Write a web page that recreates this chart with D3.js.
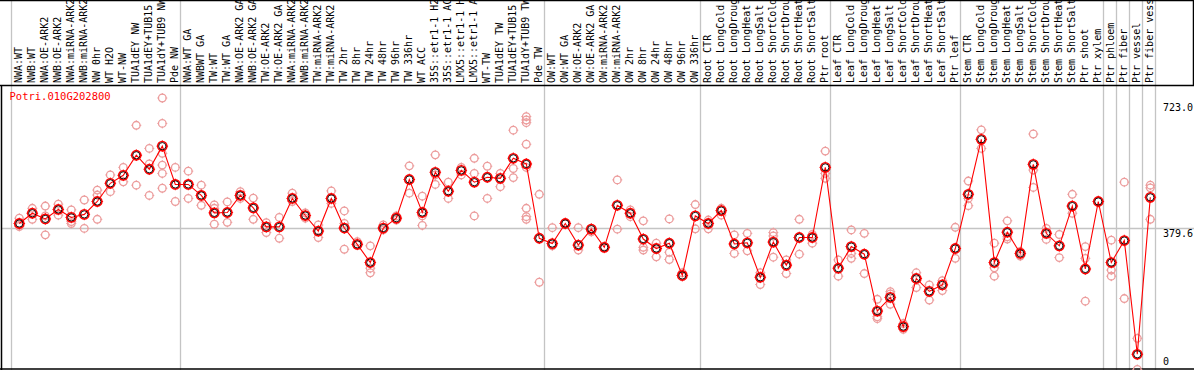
<!DOCTYPE html>
<html>
<head>
<meta charset="utf-8">
<script src="https://cdn.jsdelivr.net/npm/d3@7"></script>
<style>
	body { margin:0; background:#fff; }
	text { font-family:"DejaVu Sans Mono", monospace; font-size:10px; }
</style>
</head>
<body>
<svg id="chart" width="1194" height="370"></svg>
<script>
// ***************** DATA ********************
var geneName = "Potri.010G202800";

var labels = [
	"NWA:WT","NWB:WT","NWA:OE-ARK2","NWB:OE-ARK2","NWA:miRNA-ARK2","NWB:miRNA-ARK2",
	"NW 0hr","WT H2O","WT-NW","TUA1dEY NW","TUA1dEY+TUB15","TUA1dY+TUB9 NW","Pde NW",
	"NWA:WT GA","NWBWT GA","TW:WT","TW:WT GA","NWA:OE-ARK2 GA","NWB:OE-ARK2 GA",
	"TW:OE-ARK2","TW:OE-ARK2 GA","NWA:miRNA-ARK2","NWB:miRNA-ARK2","TW:miRNA-ARK2","TW:miRNA-ARK2",
	"TW 2hr","TW 8hr","TW 24hr","TW 48hr","TW 96hr","TW 336hr","WT ACC",
	"35S::etr1-1 H2","35S::etr1-1 AC","LMX5::etr1-1 H","LMX5::etr1-1 A",
	"WT-TW","TUA1dEY TW","TUA1dEY+TUB15","TUA1dY+TUB9 TW","Pde TW",
	"OW:WT","OW:WT GA","OW:OE-ARK2","OW:OE-ARK2 GA","OW:miRNA-ARK2","OW:miRNA-ARK2",
	"OW 2hr","OW 8hr","OW 24hr","OW 48hr","OW 96hr","OW 336hr",
	"Root CTR","Root LongCold","Root LongDroug","Root LongHeat","Root LongSalt",
	"Root ShortCold","Root ShortDrou","Root ShortHeat","Root ShortSalt","Ptr root",
	"Leaf CTR","Leaf LongCold","Leaf LongDroug","Leaf LongHeat","Leaf LongSalt",
	"Leaf ShortCold","Leaf ShortDrou","Leaf ShortHeat","Leaf ShortSalt","Ptr leaf",
	"Stem CTR","Stem LongCold","Stem LongDroug","Stem LongHeat","Stem LongSalt",
	"Stem ShortCold","Stem ShortDrou","Stem ShortHeat","Stem ShortSalt","Ptr shoot",
	"Ptr xylem","Ptr phloem","Ptr fiber","Ptr vessel","Ptr fiber vess"
];

var means = [
	392,419,404,429,408,416,450,498,519,572,535,596,495,
	495,466,420,421,466,433,383,383,458,413,372,458,380,337,289,380,406,508,421,
	527,477,532,501,514,511,564,549,
	353,339,392,335,377,329,440,419,351,326,340,255,
	412,392,426,338,341,250,343,282,355,355,
	540,274,331,311,161,197,120,247,213,230,
	326,469,614,289,369,313,548,366,333,438,272,
	450,289,347,47,461
];

// replicate measurements per sample
var replicates = [
	[406,388,384],[432,403],[438,412,362],[443,414],[428,397,392],[454,379],
	[480,467,403],[520,476],[540,502],[651,493],[590,549,466],[723,656,577,546,524,485],[540,450],
	[530,458],[493,440],[441,432,390],[449,395],[476,458],[459,403],[394,368],[408,353],
	[472,450],[420,406],[388,355],[478,445],[425,392,324],[344,335],[333,274,262],[388,375],
	[412,401],[544,472],[464,412,387],[573,520,495],[501,458],[540,520],[564,524,412],
	[543,458],[524,489],[638,537,513],[674,665,658,601,540,432,410,403],[469,237],
	[381,333],[394,391],[381,322],[379,370],[331,329],[507,377],[428,410],[399,329,322],
	[340,304],[404,316,297],[262,252],[442,378],
	[401,378],[432,414],[362,313],[366,320],[262,231],[368,359,303],[296,260],[403,311],[363,340],
	[583,524,511],[296,253],[375,313,300],[366,260],[192,146,141],[212,206,179],[128,113],
	[262,223],[230,190],[241,215],[382,300],
	[504,458,439],[639,590],[340,275,253],[399,357,351],[318,306],[628,533,487],[379,350],
	[363,302],[469,419],[331,300,187],[451],
	[348,269,253],[501,194],[89,7],[493,486,403]
];

// sample index after which a separator line is drawn (0 = left edge)
var groupEnds = [0,13,41,53,63,73,84,85,86,87,88];

var axisTicks = [723.0, 379.6, 0];

// ***************** LAYOUT ********************
var W = 1194, H = 370;
var headerBottom = 85;
var svg = d3.select("#chart");

var x = d3.scalePoint()
	.domain(d3.range(labels.length))
	.range([19.3, 1150.3]);
var step = x.step();

var y = d3.scaleLinear()
	.domain([0, 723])
	.range([372.1, 98]);

// ***************** GRID ********************
svg.selectAll("line.vgrid")
	.data(groupEnds)
	.enter()
	.append("line")
	.classed("vgrid", true)
	.attr("x1", function(d){ return Math.round(x(0) + (d - 1) * step + 4.7) + 0.5 })
	.attr("x2", function(d){ return Math.round(x(0) + (d - 1) * step + 4.7) + 0.5 })
	.attr("y1", 0)
	.attr("y2", H)
	.attr("stroke", "#c4c4c4")
	.attr("stroke-width", 1.3)

svg.append("line")
	.attr("x1", 2).attr("x2", W)
	.attr("y1", Math.round(y(379.6)) + 0.5).attr("y2", Math.round(y(379.6)) + 0.5)
	.attr("stroke", "#c4c4c4")
	.attr("stroke-width", 1.3)

// frame lines
var frame = [
	[0, 0.5, W, 0.5],
	[0, headerBottom + 0.5, W, headerBottom + 0.5],
	[1.5, headerBottom, 1.5, H],
	[0, H - 1, W, H - 1],
	[W - 0.5, 0, W - 0.5, headerBottom]
];
svg.selectAll("line.frame")
	.data(frame)
	.enter()
	.append("line")
	.classed("frame", true)
	.attr("x1", function(d){ return d[0] })
	.attr("y1", function(d){ return d[1] })
	.attr("x2", function(d){ return d[2] })
	.attr("y2", function(d){ return d[3] })
	.attr("stroke", "#000")
	.attr("stroke-width", 1.5)

// ***************** SAMPLE LABELS ********************
svg.selectAll("text.sample")
	.data(labels)
	.enter()
	.append("text")
	.classed("sample", true)
	.attr("transform", function(d, i){ return "translate(" + (x(i) + 3) + "," + (headerBottom - 2) + ") rotate(-90)" })
	.attr("fill", "#000")
	.text(function(d){ return d })

// ***************** RIGHT AXIS ********************
svg.selectAll("text.tick")
	.data(axisTicks)
	.enter()
	.append("text")
	.classed("tick", true)
	.attr("x", 1163)
	.attr("y", function(d){ return d === 0 ? 365 : d === 723 ? 111 : y(d) + 9 })
	.attr("fill", "#000")
	.text(function(d){ return d === 0 ? "0" : d.toFixed(1) })

svg.append("text")
	.attr("x", 9.5)
	.attr("y", 100)
	.attr("fill", "#ff0000")
	.style("font-size", "10.5px")
	.text(geneName)

// ***************** MARKERS ********************
var addTicks = function(g, r, color, len){
	var dirs = [[0,-1],[0,1],[-1,0],[1,0]];
	dirs.forEach(function(d){
		g.append("line")
			.attr("x1", d[0] * (r - 0.5))
			.attr("y1", d[1] * (r - 0.5))
			.attr("x2", d[0] * (r + len))
			.attr("y2", d[1] * (r + len))
			.attr("stroke", color)
			.attr("stroke-width", 1)
	})
}

var repPoints = [];
replicates.forEach(function(list, i){
	list.forEach(function(v){ repPoints.push({i:i, v:v}) })
});

svg.selectAll("g.rep")
	.data(repPoints)
	.enter()
	.append("g")
	.classed("rep", true)
	.attr("transform", function(d){ return "translate(" + x(d.i) + "," + y(d.v) + ")" })
	.each(function(d){
		var g = d3.select(this);
		g.append("circle")
			.attr("r", 3.8)
			.attr("fill", "none")
			.attr("stroke", "#ec9c9c")
			.attr("stroke-width", 1.3)
		addTicks(g, 3.8, "#ec9c9c", 1.2)
	})

var line = d3.line()
	.x(function(d, i){ return x(i) })
	.y(function(d){ return y(d) })

svg.append("path")
	.datum(means)
	.attr("d", line)
	.attr("fill", "none")
	.attr("stroke", "#ff0000")
	.attr("stroke-width", 1.1)

svg.selectAll("g.mean")
	.data(means)
	.enter()
	.append("g")
	.classed("mean", true)
	.attr("transform", function(d, i){ return "translate(" + x(i) + "," + y(d) + ")" })
	.each(function(d){
		var g = d3.select(this);
		g.append("circle")
			.attr("r", 4.6)
			.attr("fill", "none")
			.attr("stroke", "#ff0000")
			.attr("stroke-width", 1.6)
		g.append("circle")
			.attr("r", 3.6)
			.attr("fill", "none")
			.attr("stroke", "#000")
			.attr("stroke-width", 0.9)
		addTicks(g, 4.6, "#ff0000", 1.2)
	})
</script>
</body>
</html>
